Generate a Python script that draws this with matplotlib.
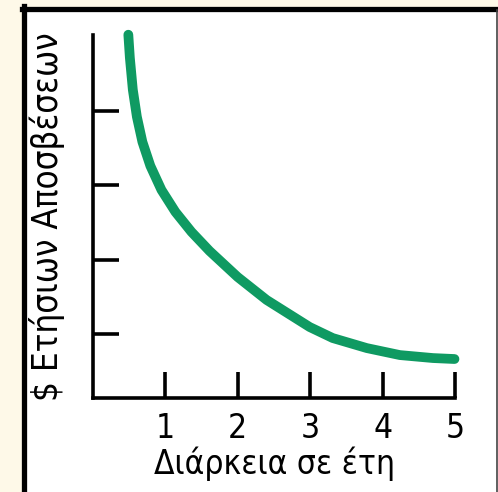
import matplotlib
matplotlib.use('Agg')
import matplotlib.pyplot as plt
from matplotlib.patches import Rectangle
from matplotlib.lines import Line2D

plt.rcParams['font.family'] = ['DejaVu Sans']
plt.rcParams['font.stretch'] = 'condensed'

# curve (years, annual depreciation)
years = [0.488, 0.509, 0.550, 0.606, 0.682, 0.792, 0.945, 1.138, 1.36, 1.609,
         1.997, 2.398, 2.993, 3.311, 3.782, 4.239, 4.696, 4.993]
amount = [5.024, 4.715, 4.284, 3.921, 3.584, 3.261, 2.938, 2.642, 2.373, 2.117,
          1.767, 1.458, 1.094, 0.946, 0.811, 0.717, 0.677, 0.664]
x_ticks = [1, 2, 3, 4, 5]
y_ticks = [1, 2, 3, 4]

fig = plt.figure(figsize=(4.98, 4.92), dpi=100)
fig.patch.set_facecolor('#fef9e8')

W, H = 498, 492
# white panel with black frame on top/left
fig.patches.append(Rectangle((23 / W, 0), 1, (H - 8.5) / H, transform=fig.transFigure,
                             facecolor='white', edgecolor='none', zorder=-2))
fig.lines.append(Line2D([23.5 / W, 23.5 / W], [0, (H - 6) / H], transform=fig.transFigure,
                        color='black', lw=3.8, zorder=-1))
fig.lines.append(Line2D([21.5 / W, 1], [(H - 8.5) / H, (H - 8.5) / H], transform=fig.transFigure,
                        color='black', lw=3.8, zorder=-1))
fig.lines.append(Line2D([497 / W, 497 / W], [0, (H - 10) / H], transform=fig.transFigure,
                        color='#444444', lw=1.2, zorder=-1))

ax = fig.add_axes([93 / W, (H - 398) / H, (455 - 93) / W, (398 - 35) / H])
ax.set_facecolor('none')
ax.plot(years, amount, color='#0f9a62', lw=7, solid_capstyle='round',
        solid_joinstyle='round', clip_on=False, zorder=3)

ax.set_xlim(0, 5)
ax.set_ylim(0.14, 5.02)
ax.set_xticks(x_ticks)
ax.set_yticks(y_ticks)
ax.set_yticklabels([])
ax.spines['top'].set_visible(False)
ax.spines['right'].set_visible(False)
for s in ('left', 'bottom'):
    ax.spines[s].set_linewidth(2.6)
    ax.spines[s].set_capstyle('projecting')
ax.tick_params(direction='in', length=19, width=2.6, labelsize=24, pad=10)
ax.set_xlabel('Διάρκεια σε έτη', fontsize=24, labelpad=1)
ax.set_ylabel('$ Ετήσιων Αποσβέσεων', fontsize=25, labelpad=10)

fig.savefig('out.png', dpi=100, facecolor=fig.get_facecolor())
